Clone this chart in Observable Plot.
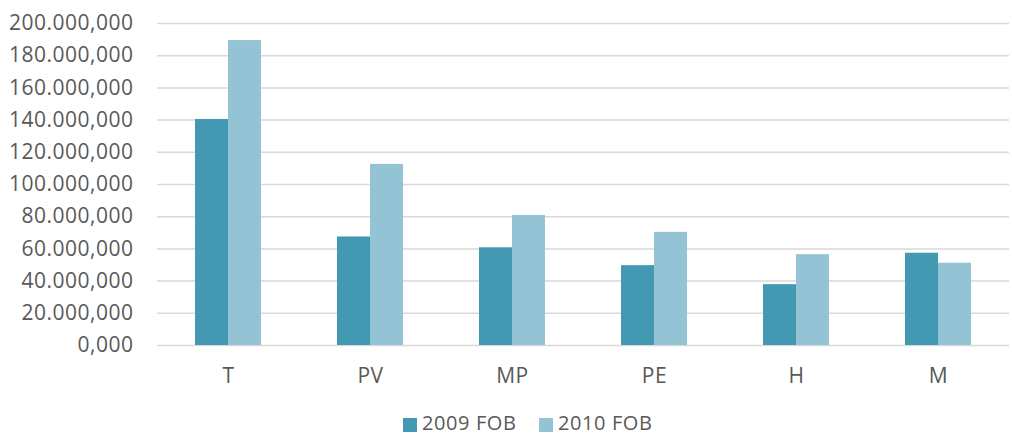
<!DOCTYPE html>
<html><head><meta charset="utf-8">
<script src="https://cdn.jsdelivr.net/npm/d3@7"></script>
<script src="https://cdn.jsdelivr.net/npm/@observablehq/plot@0.6"></script>
<style>
html,body{margin:0;padding:0;background:#fff;overflow:hidden;}
#chart{position:relative;width:1012px;height:436px;overflow:hidden;}
.item{position:absolute;top:413px;height:20px;line-height:20px;font-family:'Open Sans',sans-serif;font-size:20px;color:#595959;white-space:nowrap;letter-spacing:0.6px;}
.sw{position:absolute;top:5px;left:0;width:14px;height:14px;}
.lt{position:absolute;left:19px;top:0;}
</style></head>
<body><div id="chart"></div>
<script>
const categories = ["T","PV","MP","PE","H","M"];
const series = ["2009 FOB","2010 FOB"];
const fob2009 = [140400000, 67400000, 60700000, 49600000, 37800000, 57300000];
const fob2010 = [189400000, 112500000, 80800000, 70300000, 56400000, 51100000];
const yTicks = [0,20000000,40000000,60000000,80000000,100000000,120000000,140000000,160000000,180000000,200000000];
const yTickLabels = ["0,000","20.000,000","40.000,000","60.000,000","80.000,000","100.000,000","120.000,000","140.000,000","160.000,000","180.000,000","200.000,000"];
const colors = ["#4399b1","#93c3d5"];

const data = categories.flatMap((c,i)=>[
  {cat:c, series:series[0], value:fob2009[i]},
  {cat:c, series:series[1], value:fob2010[i]}
]);

const plot = Plot.plot({
  width:1012, height:436,
  marginLeft:155, marginRight:2, marginTop:23, marginBottom:91,
  style:{fontFamily:"'Open Sans', sans-serif", fontSize:"21px", color:"#595959", background:"#fff", letterSpacing:"0.5px"},
  fx:{domain:categories, padding:0, label:null, axis:"bottom", tickSize:0, tickPadding:23},
  x:{domain:series, paddingInner:0, paddingOuter:1.1, axis:null},
  y:{domain:[0,200000000], ticks:yTicks, tickFormat:d=>yTickLabels[yTicks.indexOf(d)], label:null, tickSize:0, tickPadding:24},
  color:{domain:series, range:colors},
  marks:[
    Plot.ruleY(yTicks,{stroke:"#d9d9d9", strokeWidth:1.5}),
    Plot.barY(data,{fx:"cat", x:"series", y:"value", fill:"series"})
  ]
});
const chart = document.getElementById("chart");
chart.appendChild(plot);

const lefts = [403, 539];
series.forEach((s,i)=>{
  const it = document.createElement("div");
  it.className="item"; it.style.left=lefts[i]+"px";
  const sw = document.createElement("span"); sw.className="sw"; sw.style.background=colors[i];
  const t = document.createElement("span"); t.className="lt"; t.textContent=s;
  it.appendChild(sw); it.appendChild(t); chart.appendChild(it);
});
</script></body></html>
